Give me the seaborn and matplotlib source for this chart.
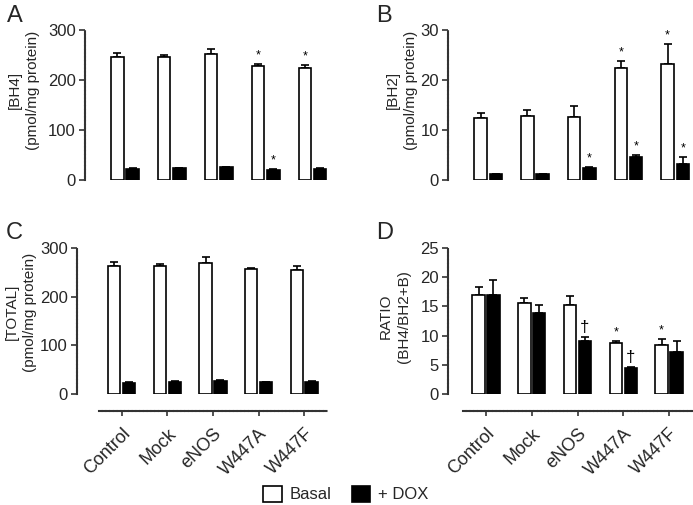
import matplotlib
matplotlib.use("Agg")
import matplotlib.pyplot as plt
import seaborn as sns
import pandas as pd
from matplotlib.patches import Patch

groups = ['Control', 'Mock', 'eNOS', 'W447A', 'W447F']
conditions = ['Basal', '+ DOX']

bh4_basal = [247, 247, 252, 229, 225]
bh4_basal_err = [8, 4, 10, 4, 5]
bh4_dox = [23, 24, 26, 21, 23]
bh4_dox_err = [1, 1, 1, 1, 1]
bh4_basal_marks = ['', '', '', '*', '*']
bh4_dox_marks = ['', '', '', '*', '']

bh2_basal = [12.5, 12.9, 12.7, 22.5, 23.2]
bh2_basal_err = [1.0, 1.2, 2.1, 1.4, 4.1]
bh2_dox = [1.2, 1.2, 2.5, 4.6, 3.3]
bh2_dox_err = [0.1, 0.1, 0.2, 0.4, 1.4]
bh2_basal_marks = ['', '', '', '*', '*']
bh2_dox_marks = ['', '', '*', '*', '*']

total_basal = [262, 264, 269, 257, 254]
total_basal_err = [10, 3, 12, 2, 8]
total_dox = [23, 25, 27, 24, 25]
total_dox_err = [1, 1, 1, 1, 1]
total_basal_marks = ['', '', '', '', '']
total_dox_marks = ['', '', '', '', '']

ratio_basal = [16.9, 15.5, 15.3, 8.8, 8.4]
ratio_basal_err = [1.4, 1.0, 1.4, 0.3, 1.0]
ratio_dox = [17.0, 13.8, 9.1, 4.4, 7.2]
ratio_dox_err = [2.5, 1.5, 0.7, 0.2, 1.8]
ratio_basal_marks = ['', '', '', '*', '*']
ratio_dox_marks = ['', '', '\u2020', '\u2020', '']

sns.set_style("ticks")
plt.rcParams['font.family'] = ['Liberation Sans', 'DejaVu Sans']

W, H = 693, 505
fig = plt.figure(figsize=(W / 100, H / 100), dpi=100)

AXC = '#333333'


def px_axes(left, top, right, bottom):
    return fig.add_axes([left / W, (H - bottom) / H, (right - left) / W, (bottom - top) / H])


def panel(ax, basal, berr, dox, derr, bmarks, dmarks, ymax, ystep, ylabel,
          xlim, xaxis, label_xy):
    df = pd.DataFrame({
        'group': groups * 2,
        'cond': [conditions[0]] * 5 + [conditions[1]] * 5,
        'value': basal + dox,
        'err': berr + derr,
        'mark': bmarks + dmarks,
    })
    sns.barplot(data=df, x='group', y='value', hue='cond', order=groups,
                hue_order=conditions, palette=['white', 'black'], saturation=1,
                edgecolor='black', linewidth=1.2, width=0.65, gap=0.17,
                errorbar=None, legend=False, ax=ax, zorder=3)
    for p in ax.patches:
        cx = p.get_x() + p.get_width() / 2
        h = p.get_height()
        gi = int(round(cx))
        ci = 0 if p.get_facecolor()[0] > 0.5 else 1
        row = df[(df['group'] == groups[gi]) & (df['cond'] == conditions[ci])].iloc[0]
        e = row['err']
        ax.errorbar(cx, h, yerr=[[0], [e]], fmt='none', ecolor='black',
                    elinewidth=1.2, capsize=3, capthick=1.2, zorder=2, clip_on=False)
        if row['mark']:
            fs = 9 if row['mark'] == '*' else 12
            ax.text(cx, h + e + ymax * 0.015, row['mark'], ha='center', va='bottom',
                    fontsize=fs, color='black')
    ax.set_ylim(0, ymax)
    ax.set_xlim(*xlim)
    ticks = list(range(0, int(ymax) + 1, ystep))
    ax.set_yticks(ticks)
    ax.set_yticklabels([str(t) for t in ticks])
    for s in ['top', 'right']:
        ax.spines[s].set_visible(False)
    ax.spines['left'].set_color(AXC)
    ax.spines['left'].set_linewidth(1.5)
    ax.spines['left'].set_linestyle((0, (1.2, 0.6)))
    ax.spines['left'].set_bounds(0, ymax)
    ax.tick_params(axis='y', length=4.5, width=1.2, color=AXC, labelsize=12, pad=2)
    ax.set_ylabel(ylabel, fontsize=11, va='center', linespacing=1.35)
    ax.yaxis.set_label_coords(*label_xy)
    ax.set_xlabel('')
    if xaxis:
        ax.spines['bottom'].set_bounds(-0.5, 4.5)
        ax.spines['bottom'].set_position(('outward', 12))
        ax.spines['bottom'].set_color(AXC)
        ax.spines['bottom'].set_linewidth(1.5)
        ax.spines['bottom'].set_linestyle((0, (1.2, 0.6)))
        ax.set_xticks(range(len(groups)))
        ax.set_xticklabels(groups, rotation=45, ha='right', rotation_mode='anchor')
        ax.tick_params(axis='x', length=3.5, width=1.2, color=AXC, labelsize=13, pad=7)
    else:
        ax.spines['bottom'].set_visible(False)
        ax.set_xticks([])
    ax.patch.set_alpha(0)


axA = px_axes(85, 30, 336, 180)
panel(axA, bh4_basal, bh4_basal_err, bh4_dox, bh4_dox_err, bh4_basal_marks, bh4_dox_marks,
      300, 100, '[BH4]\n(pmol/mg protein)', (-0.85, 4.5), False, (-0.243, 0.6))

axB = px_axes(448, 30, 693, 180)
panel(axB, bh2_basal, bh2_basal_err, bh2_dox, bh2_dox_err, bh2_basal_marks, bh2_dox_marks,
      30, 10, '[BH2]\n(pmol/mg protein)', (-0.86, 4.38), False, (-0.188, 0.6))

axC = px_axes(77, 248, 327, 394)
panel(axC, total_basal, total_basal_err, total_dox, total_dox_err, total_basal_marks,
      total_dox_marks, 300, 100, '[TOTAL]\n(pmol/mg protein)', (-0.98, 4.5), True, (-0.224, 0.56))

axD = px_axes(448, 248, 692, 394)
panel(axD, ratio_basal, ratio_basal_err, ratio_dox, ratio_dox_err, ratio_basal_marks,
      ratio_dox_marks, 25, 5, 'RATIO\n(BH4/BH2+B)', (-0.83, 4.5), True, (-0.217, 0.53))

for letter, x, y in [('A', 7, 5), ('B', 376, 5), ('C', 6, 222), ('D', 376, 222)]:
    fig.text(x / W, 1 - y / H, letter, fontsize=17, ha='left', va='top')

handles = [Patch(facecolor='white', edgecolor='black', linewidth=1.2, label='Basal'),
           Patch(facecolor='black', edgecolor='black', linewidth=1.2, label='+ DOX')]
fig.legend(handles=handles, loc='center', bbox_to_anchor=(346 / W, 1 - 494 / H), ncol=2,
           frameon=False, fontsize=12, handlelength=1.1, handleheight=1.1,
           columnspacing=1.2, handletextpad=0.5)

fig.savefig('out.png', dpi=100)
